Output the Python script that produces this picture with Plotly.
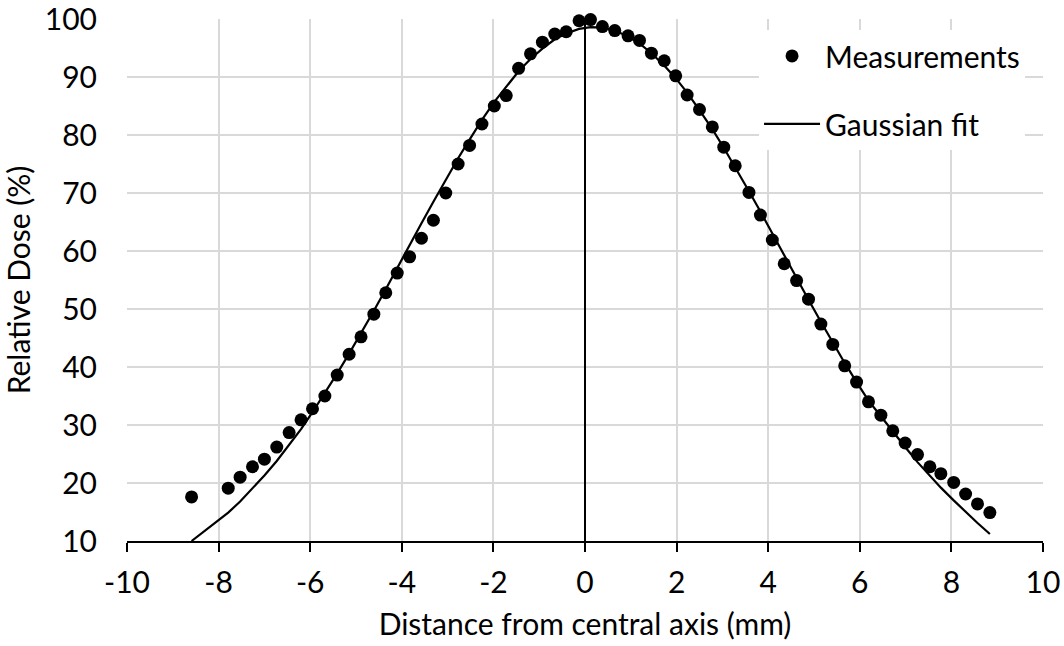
import plotly.graph_objects as go

# Measured relative dose profile across the beam
distance_mm = [
    -8.59, -7.79, -7.53, -7.26, -7.00, -6.73, -6.46, -6.20, -5.95, -5.68,
    -5.41, -5.15, -4.89, -4.61, -4.35, -4.10, -3.83, -3.57, -3.31, -3.04,
    -2.77, -2.52, -2.25, -1.98, -1.72, -1.45, -1.19, -0.93, -0.66, -0.41,
    -0.13, 0.12, 0.38, 0.65, 0.94, 1.19, 1.45, 1.73, 1.98, 2.23,
    2.50, 2.78, 3.03, 3.28, 3.58, 3.83, 4.09, 4.35, 4.62, 4.88,
    5.15, 5.41, 5.67, 5.93, 6.19, 6.46, 6.72, 6.99, 7.26, 7.53,
    7.77, 8.05, 8.31, 8.57, 8.84,
]
measured_dose = [
    17.6, 19.1, 21.0, 22.8, 24.1, 26.2, 28.7, 30.9, 32.8, 35.0,
    38.6, 42.2, 45.2, 49.1, 52.8, 56.2, 59.0, 62.2, 65.3, 70.0,
    75.0, 78.2, 81.9, 85.0, 86.8, 91.5, 94.0, 96.0, 97.4, 97.8,
    99.7, 99.9, 98.7, 98.0, 97.1, 96.3, 94.1, 92.8, 90.2, 86.9,
    84.4, 81.4, 77.9, 74.7, 70.1, 66.2, 61.9, 57.8, 54.9, 51.7,
    47.4, 43.9, 40.2, 37.4, 34.0, 31.7, 29.0, 26.9, 24.9, 22.8,
    21.6, 20.1, 18.1, 16.4, 14.9,
]
# Gaussian fit evaluated at the measurement positions
fitted_dose = [
    10.0, 14.9, 16.8, 19.0, 21.3, 23.8, 26.6, 29.3, 32.2, 35.5,
    38.9, 42.3, 45.8, 49.7, 53.4, 57.1, 61.0, 64.8, 68.5, 72.3,
    76.0, 79.2, 82.6, 85.7, 88.4, 91.0, 93.1, 94.9, 96.5, 97.5,
    98.3, 98.6, 98.5, 98.0, 97.0, 95.8, 94.1, 92.0, 89.8, 87.3,
    84.3, 81.0, 77.8, 74.5, 70.3, 66.8, 63.0, 59.2, 55.3, 51.6,
    47.8, 44.2, 40.7, 37.4, 34.2, 31.5, 28.8, 26.2, 23.6, 21.2,
    19.2, 17.0, 15.0, 13.1, 11.2,
]

x_ticks = [-10, -8, -6, -4, -2, 0, 2, 4, 6, 8, 10]
y_ticks = [10, 20, 30, 40, 50, 60, 70, 80, 90, 100]

FONT = "Lato, 'Open Sans', sans-serif"
FS = 30
GRID = "#d9d9d9"

fig = go.Figure()
fig.add_trace(go.Scatter(
    x=distance_mm, y=measured_dose, mode="markers", name="Measurements",
    marker=dict(color="black", size=13), legendgroup="a", cliponaxis=False,
))
fig.add_trace(go.Scatter(
    x=distance_mm, y=fitted_dose, mode="lines", name="Gaussian fit",
    line=dict(color="black", width=2.2), legendgroup="b",
))

fig.update_layout(
    width=1064, height=646,
    margin=dict(l=127, r=21, t=19, b=105),
    paper_bgcolor="white", plot_bgcolor="white",
    font=dict(family=FONT, size=FS, color="black"),
    showlegend=True,
    legend=dict(
        x=0.69, y=0.979, xanchor="left", yanchor="top",
        bgcolor="white", font=dict(size=FS, family=FONT),
        tracegroupgap=26, itemwidth=56,
    ),
    xaxis=dict(
        range=[-10, 10], tickvals=x_ticks, ticktext=[str(v) for v in x_ticks],
        showgrid=True, gridcolor=GRID, gridwidth=1.5,
        showline=True, linecolor="black", linewidth=1.5,
        ticks="outside", ticklen=9, tickcolor="black", tickwidth=1.5,
        zeroline=True, zerolinecolor="black", zerolinewidth=1.5,
        ticklabelstandoff=5,
        tickfont=dict(size=FS), automargin=False,
        title=dict(text="Distance from central axis (mm)", font=dict(size=FS), standoff=16),
    ),
    yaxis=dict(
        range=[10, 100], tickvals=y_ticks,
        showgrid=True, gridcolor=GRID, gridwidth=1.5,
        showline=False, zeroline=False, ticks="",
        ticklabelstandoff=29, automargin=False,
        ticklabeloverflow="allow",
        tickfont=dict(size=FS),
        title=dict(text="Relative Dose (%)", font=dict(size=FS), standoff=14),
    ),
    yaxis2=dict(
        range=[10, 100], tickvals=y_ticks, overlaying="y",
        anchor="free", position=0.5, side="left",
        showgrid=False, showline=True, linecolor="black", linewidth=1.5,
        ticks="outside", ticklen=9, tickcolor="black", tickwidth=1.5,
        showticklabels=False, zeroline=False,
    ),
)

fig.write_html("out.html")
